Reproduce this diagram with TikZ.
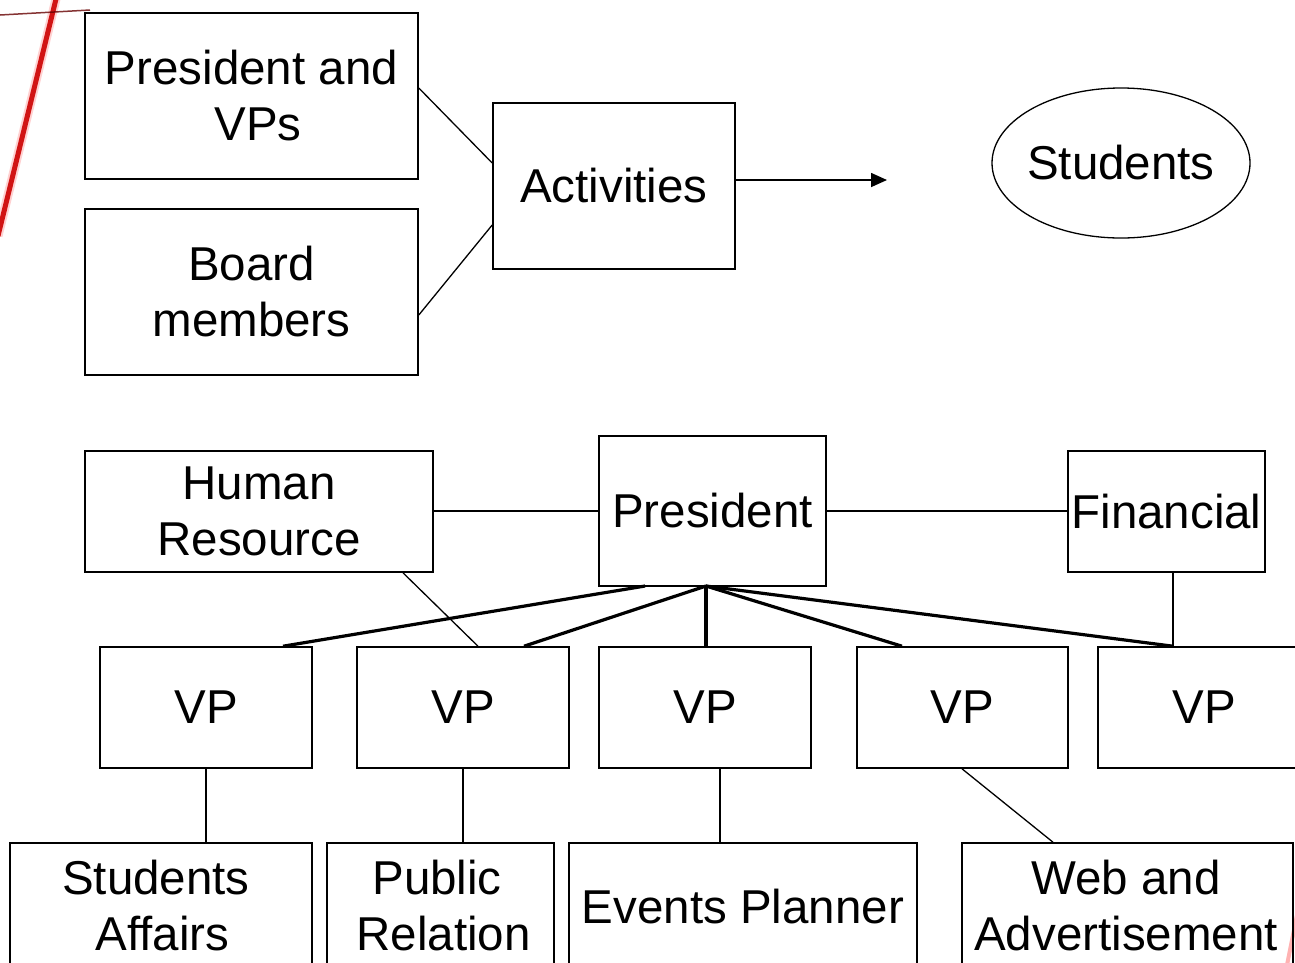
\documentclass[tikz,border=0pt]{standalone}
\usepackage{fontspec}
\setmainfont{Liberation Sans}
\usetikzlibrary{arrows.meta,shapes.geometric}
\begin{document}
\begin{tikzpicture}[x=1pt,y=-1pt,
  box/.style={draw,line width=1.6pt,inner sep=0pt},
  lbl/.style={font=\fontsize{47.5}{56}\selectfont,align=center,inner sep=0pt},
  thin/.style={line width=1.3pt},
  thick/.style={line width=3.2pt}]
\useasboundingbox (0,0) rectangle (1295,962);
\clip (0,0) rectangle (1295,962);
% background decoration
\draw[line width=9pt,red!30,opacity=0.6] (57,-5) -- (-2,236);
\draw[line width=5pt,red!80!black,opacity=0.9] (57,-5) -- (-2,236);
\draw[line width=1.5pt,red!40!black,opacity=0.8] (0,15) -- (90,10);
\draw[line width=4pt,red!60,opacity=0.5] (1297,915) -- (1287,965);
% top part
\node[box,minimum width=333pt,minimum height=166pt] (pvp) at (251.5,96) {};
\node[lbl] at (pvp.center) {President and\\\ VPs};
\node[box,minimum width=333pt,minimum height=166pt] (board) at (251.5,292) {};
\node[lbl] at (board.center) {Board\\members};
\node[box,minimum width=242pt,minimum height=166pt] (act) at (614,186) {};
\node[lbl] at (act.center) {Activities};
\node[draw,line width=1.3pt,ellipse,minimum width=258pt,minimum height=150pt,inner sep=0pt] (stud) at (1121,163) {};
\node[lbl] at (stud.center) {Students};
\coordinate (arrend) at (887,180);
\draw[thin] (pvp.east |- 0,88) -- (act.west |- 0,163);
\draw[thin] (board.east |- 0,315) -- (act.west |- 0,225);
\draw[line width=1.6pt,-{Triangle[length=16pt,width=14pt]}] (act.east |- arrend) -- (arrend);
% org chart
\node[box,minimum width=348pt,minimum height=121pt] (hr) at (259,511.5) {};
\node[lbl] at (hr.center) {Human\\Resource};
\node[box,minimum width=227pt,minimum height=150pt] (pres) at (712.5,511) {};
\node[lbl] at (pres.center) {President};
\node[box,minimum width=197pt,minimum height=121pt] (fin) at (1166.5,511.5) {};
\node[lbl] at (fin.center) {Financial};
\draw[thin] (hr.east |- 0,511) -- (pres.west |- 0,511);
\draw[thin] (pres.east |- 0,511) -- (fin.west |- 0,511);
\node[box,minimum width=212pt,minimum height=121pt] (vp1) at (206,707.5) {};
\node[lbl] at (vp1.center) {VP};
\node[box,minimum width=212pt,minimum height=121pt] (vp2) at (463,707.5) {};
\node[lbl] at (vp2.center) {VP};
\node[box,minimum width=212pt,minimum height=121pt] (vp3) at (705,707.5) {};
\node[lbl] at (vp3.center) {VP};
\node[box,minimum width=211pt,minimum height=121pt] (vp4) at (962.5,707.5) {};
\node[lbl] at (vp4.center) {VP};
\node[box,minimum width=212pt,minimum height=121pt] (vp5) at (1204,707.5) {};
\node[lbl] at (1204,707.5) {VP};
\draw[thick] (645,586) -- (vp1.north -| 283,0);
\draw[thick] (706,586) -- (vp2.north -| 524,0);
\draw[thick] (706,586) -- (vp3.north -| 706,0);
\draw[thick] (706,586) -- (vp4.north -| 902,0);
\draw[thick] (706,586) -- (vp5.north -| 1173,0);
\draw[thin] (fin.south -| 1173,0) -- (vp5.north -| 1173,0);
\draw[thin] (hr.south -| 403,0) -- (vp2.north -| 478,0);
% bottom boxes
\node[box,minimum width=302pt,minimum height=150pt] (sa) at (161,918) {};
\node[lbl] at (156,906) {Students\\\ Affairs};
\node[box,minimum width=227pt,minimum height=150pt] (pr) at (440.5,918) {};
\node[lbl] at (437,906) {Public\\\ Relation};
\node[box,minimum width=348pt,minimum height=150pt] (ep) at (743,918) {};
\node[lbl] at (743,907) {Events Planner};
\node[box,minimum width=331pt,minimum height=150pt] (web) at (1127.5,918) {};
\node[lbl] at (1126,906) {Web and\\Advertisement};
\draw[thin] (vp1.south -| 206,0) -- (sa.north -| 206,0);
\draw[thin] (vp2.south -| 463,0) -- (pr.north -| 463,0);
\draw[thin] (vp3.south -| 720,0) -- (ep.north -| 720,0);
\draw[thin] (vp4.south -| 962,0) -- (web.north -| 1053,0);
\end{tikzpicture}
\end{document}
